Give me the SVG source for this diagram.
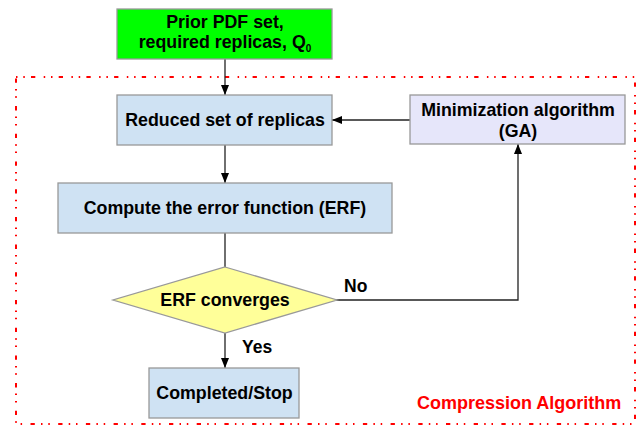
<svg xmlns="http://www.w3.org/2000/svg" width="638" height="428" viewBox="0 0 638 428">
<style>
text{font-family:"Liberation Sans",Arial,sans-serif;font-weight:bold;fill:#000;}
.t{font-size:17.8px;text-anchor:middle;}
.box{stroke:#999;stroke-width:1.3;}
.c{stroke:#222;stroke-width:1.3;fill:none;}
.lbl{font-size:17.5px;}
</style>
<defs>
<marker id="ah" markerWidth="10" markerHeight="8" refX="10" refY="4" orient="auto" markerUnits="userSpaceOnUse">
<path d="M0,0 L10,4 L0,8 Z" fill="#000"/>
</marker>
</defs>
<rect x="16" y="77" width="619" height="347" fill="none" stroke="#ff0000" stroke-width="2" stroke-dasharray="1.5 5.8 1.5 6.2 4.3 8.4"/>
<g id="connectors">
<line class="c" x1="225" y1="59" x2="225" y2="95" marker-end="url(#ah)"/>
<line class="c" x1="410" y1="120" x2="332" y2="120" marker-end="url(#ah)"/>
<line class="c" x1="225" y1="145" x2="225" y2="183" marker-end="url(#ah)"/>
<line class="c" x1="225" y1="233" x2="225" y2="267"/>
<polyline class="c" points="336,300 518,300 518,144" marker-end="url(#ah)"/>
<line class="c" x1="225" y1="333" x2="225" y2="368" marker-end="url(#ah)"/>
<text class="lbl" x="344" y="292">No</text>
<text class="lbl" x="242" y="353">Yes</text>
</g>
<g id="prior">
<rect class="box" x="117" y="9" width="215" height="50" fill="#00ff00"/>
<text class="t" x="225" y="28">Prior PDF set,</text>
<text class="t" x="225" y="47.5">required replicas, Q<tspan dy="4" style="font-size:10px">0</tspan></text>
</g>
<g id="reduced">
<rect class="box" x="117" y="95" width="215" height="50" fill="#cfe2f3"/>
<text class="t" x="225" y="126.3">Reduced set of replicas</text>
</g>
<g id="minimization">
<rect class="box" x="410" y="95" width="215" height="49" fill="#e6e6fa"/>
<text class="t" x="518" y="116">Minimization algorithm</text>
<text class="t" x="518" y="137">(GA)</text>
</g>
<g id="compute">
<rect class="box" x="58" y="183" width="334" height="50" fill="#cfe2f3"/>
<text class="t" x="225" y="214.3">Compute the error function (ERF)</text>
</g>
<g id="converges">
<polygon class="box" points="225,267 337,300 225,333 113,300" fill="#ffff99"/>
<text class="t" x="225" y="306.3">ERF converges</text>
</g>
<g id="completed">
<rect class="box" x="149" y="368" width="150" height="50" fill="#cfe2f3"/>
<text class="t" x="224.5" y="399.3">Completed/Stop</text>
</g>
<g id="label">
<text x="417" y="408.5" style="font-size:18px;fill:#ff0000">Compression Algorithm</text>
</g>
</svg>
